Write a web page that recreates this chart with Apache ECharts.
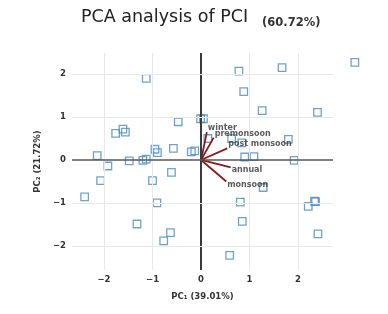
<!DOCTYPE html>
<html>
<head>
<meta charset="utf-8">
<script src="https://cdn.jsdelivr.net/npm/echarts@6/dist/echarts.min.js"></script>
<style>
  html, body { margin: 0; padding: 0; background: #fff; }
</style>
</head>
<body>
<div id="pca_chart" style="width:388px; height:314px;"></div>
<script>
// scores (PC1, PC2)
const pc1 = [-1.13, -1.76, -1.61, -1.56, -0.47, -0.01, 0.05, -2.14, -0.95, -0.90, -0.57, -0.20, -0.13,
  -1.48, -1.20, -1.13, -1.92, -2.07, -2.40, -1.00, -0.61, -0.91, -1.32, -0.63, -0.77,
  0.78, 1.67, 3.17, 0.88, 1.26, 2.40, 0.14, 0.63, 0.84, 1.80, 0.90, 1.09, 1.92,
  1.28, 0.81, 2.21, 2.34, 2.36, 0.85, 2.41, 0.59]
const pc2 = [1.90, 0.62, 0.72, 0.65, 0.89, 0.96, 0.96, 0.10, 0.25, 0.17, 0.27, 0.19, 0.21,
  -0.02, -0.01, 0.02, -0.14, -0.48, -0.86, -0.48, -0.29, -1.00, -1.49, -1.69, -1.88,
  2.07, 2.15, 2.27, 1.59, 1.15, 1.11, 0.50, 0.50, 0.40, 0.48, 0.07, 0.08, -0.01,
  -0.64, -0.98, -1.08, -0.96, -0.97, -1.43, -1.72, -2.22]

// loadings
const load_names = ['winter', 'premonsoon', 'post monsoon', 'annual', 'monsoon']
const load_pc1 = [0.12, 0.26, 0.54, 0.61, 0.52]
const load_pc2 = [0.65, 0.52, 0.27, -0.17, -0.50]

const x_ticks = [-2, -1, 0, 1, 2]
const y_ticks = [-2, -1, 0, 1, 2]

const my_echart = echarts.init(document.getElementById('pca_chart'), null, {renderer: 'canvas'})

const tickFmt = function (v) {
  if (Math.abs(v - Math.round(v)) > 1e-6) return ''
  return String(Math.round(v)).replace('-', '\u2212')
}

let series = []

// grid lines + zero lines
series.push({
  type: 'line',
  data: [],
  z: 1,
  silent: true,
  markLine: {
    silent: true,
    symbol: 'none',
    label: {show: false},
    animation: false,
    data: x_ticks.map(v => ({
      xAxis: v,
      lineStyle: v === 0 ? {color: '#3a3a3a', width: 2, type: 'solid'} : {color: '#e8e8e8', width: 1, type: 'solid'}
    })).concat(y_ticks.map(v => ({
      yAxis: v,
      lineStyle: v === 0 ? {color: '#555', width: 1.5, type: 'solid'} : {color: '#e8e8e8', width: 1, type: 'solid'}
    })))
  }
})

// score points
series.push({
  type: 'scatter',
  z: 3,
  clip: false,
  symbol: 'rect',
  symbolSize: 7.5,
  itemStyle: {color: 'rgba(0,0,0,0)', borderColor: '#4a8bc2', borderWidth: 1.3},
  data: pc1.map((x, i) => [x, pc2[i]])
})

// loading vectors
for (let i = 0; i < load_names.length; i++) {
  series.push({
    type: 'line',
    z: 4,
    symbol: 'none',
    lineStyle: {color: '#8b1a1a', width: 1.8},
    data: [[0, 0], [load_pc1[i], load_pc2[i]]]
  })
}

// loading labels
series.push({
  type: 'scatter',
  z: 5,
  symbolSize: 0,
  label: {
    show: true,
    position: 'right',
    distance: 1,
    formatter: p => p.name,
    color: '#333',
    fontFamily: 'DejaVu Sans',
    fontWeight: 'bold',
    fontSize: 8
  },
  data: load_names.map((n, i) => ({
    name: n,
    value: [load_pc1[i], load_pc2[i]],
    label: {offset: [0, load_pc2[i] > 0 ? -4 : 3]}
  }))
})

my_echart.setOption({
  animation: false,
  title: [
    {
      text: 'PCA analysis of PCI',
      left: 81,
      top: 8,
      padding: 0,
      textStyle: {fontFamily: 'DejaVu Sans', fontWeight: 'normal', fontSize: 17.5, color: '#222'}
    },
    {
      text: '(60.72%)',
      left: 262,
      top: 17,
      padding: 0,
      textStyle: {fontFamily: 'DejaVu Sans', fontWeight: 'bold', fontSize: 11.5, color: '#333'}
    }
  ],
  grid: {left: 72, right: 55, top: 53, bottom: 44, containLabel: false},
  xAxis: {
    type: 'value',
    min: -2.66,
    max: 2.72,
    name: 'PC\u2081 (39.01%)',
    nameLocation: 'middle',
    nameGap: 22,
    nameTextStyle: {fontFamily: 'DejaVu Sans', fontWeight: 'bold', fontSize: 8.5, color: '#333'},
    axisLine: {show: false},
    axisTick: {show: false},
    splitLine: {show: false},
    axisLabel: {
      formatter: tickFmt,
      margin: 5,
      fontFamily: 'DejaVu Sans', fontWeight: 'bold', fontSize: 8.5, color: '#333'
    }
  },
  yAxis: {
    type: 'value',
    min: -2.56,
    max: 2.49,
    name: 'PC\u2082 (21.72%)',
    nameLocation: 'middle',
    nameGap: 30,
    nameRotate: 90,
    nameTextStyle: {fontFamily: 'DejaVu Sans', fontWeight: 'bold', fontSize: 8.5, color: '#333'},
    axisLine: {show: false},
    axisTick: {show: false},
    splitLine: {show: false},
    axisLabel: {
      formatter: tickFmt,
      margin: 6,
      fontFamily: 'DejaVu Sans', fontWeight: 'bold', fontSize: 8.5, color: '#333'
    }
  },
  series: series
})
</script>
</body>
</html>
